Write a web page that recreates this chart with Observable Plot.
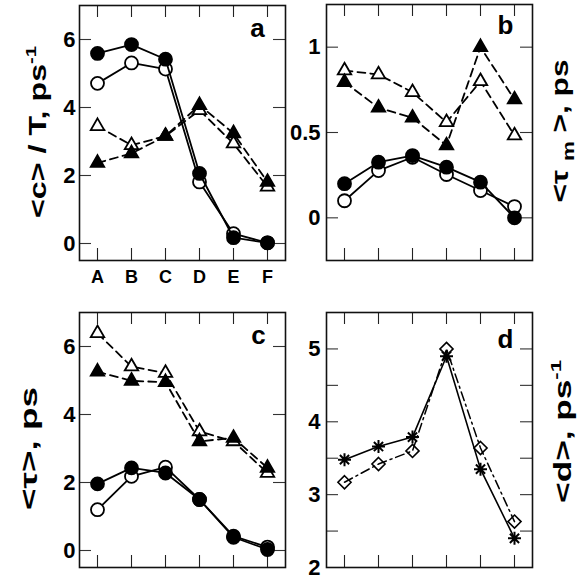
<!DOCTYPE html>
<html><head><meta charset="utf-8">
<script src="https://cdn.jsdelivr.net/npm/d3@7"></script>
<script src="https://cdn.jsdelivr.net/npm/@observablehq/plot@0.6"></script>
<style>
body{margin:0;background:#fff;}
#chart{position:relative;width:579px;height:583px;font-family:"Liberation Sans",Arial,sans-serif;background:#fff;overflow:hidden;}
.panel{position:absolute;}
</style></head><body><div id="chart"></div>
<script>
// ---- data ----
const categories = ["A", "B", "C", "D", "E", "F"];

// panel a: <c>/T, ps^-1
const aOpenTriangle  = [3.45, 2.89, 3.16, 3.92, 2.94, 1.67];
const aFilledTriangle = [2.37, 2.65, 3.16, 4.07, 3.24, 1.81];
const aOpenCircle    = [4.71, 5.31, 5.13, 1.81, 0.29, 0.02];
const aFilledCircle  = [5.59, 5.85, 5.42, 2.06, 0.17, 0.02];
const aYTicks = [0, 2, 4, 6];

// panel b: <tau_m>, ps
const bOpenTriangle  = [0.863, 0.84, 0.736, 0.56, 0.80, 0.482];
const bFilledTriangle = [0.795, 0.645, 0.586, 0.424, 1.0, 0.693];
const bOpenCircle    = [0.10, 0.277, 0.355, 0.254, 0.16, 0.066];
const bFilledCircle  = [0.20, 0.326, 0.365, 0.297, 0.209, 0.0];
const bYTicks = [0, 0.5, 1];

// panel c: <tau>, ps
const cOpenTriangle  = [6.39, 5.41, 5.22, 3.50, 3.21, 2.28];
const cFilledTriangle = [5.26, 4.99, 4.95, 3.21, 3.31, 2.43];
const cOpenCircle    = [1.20, 2.18, 2.45, 1.50, 0.42, 0.10];
const cFilledCircle  = [1.96, 2.43, 2.28, 1.50, 0.39, 0.03];
const cYTicks = [0, 2, 4, 6];

// panel d: <d>, ps^-1
const dDiamond  = [3.17, 3.42, 3.60, 5.00, 3.64, 2.63];
const dAsterisk = [3.48, 3.66, 3.79, 4.90, 3.35, 2.40];
const dYTicks = [2, 3, 4, 5];
const dYMinorTicks = [2.5, 3, 3.5, 4, 4.5, 5];

// ---- helpers ----
const asterisk8 = {
  draw(ctx, size) {
    const r = Math.sqrt(size / Math.PI), d = r * Math.SQRT1_2;
    ctx.moveTo(-r, 0); ctx.lineTo(r, 0);
    ctx.moveTo(0, -r); ctx.lineTo(0, r);
    ctx.moveTo(-d, -d); ctx.lineTo(d, d);
    ctx.moveTo(-d, d); ctx.lineTo(d, -d);
  }
};
const rows = vals => categories.map((c, i) => ({cat: c, v: vals[i]}));

function seriesMarks(vals, {symbol, fill, dash, r, sw = 1.8, lw = 1.8}) {
  const data = rows(vals);
  return [
    Plot.line(data, {x: "cat", y: "v", stroke: "black", strokeWidth: lw, strokeDasharray: dash}),
    Plot.dot(data, {x: "cat", y: "v", symbol, r, fill, stroke: "black", strokeWidth: sw})
  ];
}

function panel(cfg) {
  const FW = cfg.width - cfg.ml - cfg.mr;
  const FH = cfg.height - cfg.mt - cfg.mb;
  const tickLen = 12;
  const marks = [
    Plot.tickX(categories, {x: d => d, stroke: "#222", strokeWidth: 1.1, insetTop: FH - tickLen}),
    Plot.tickX(categories, {x: d => d, stroke: "#222", strokeWidth: 1.1, insetBottom: FH - tickLen}),
    Plot.tickY(cfg.tickMarks, {y: d => d, stroke: "#333", strokeWidth: 1.1, insetRight: FW - tickLen}),
    Plot.tickY(cfg.tickMarks, {y: d => d, stroke: "#333", strokeWidth: 1.1, insetLeft: FW - tickLen}),
    Plot.axisY({ticks: cfg.yTicks, tickSize: 0, tickPadding: cfg.pad, tickFormat: d => String(d),
      fontSize: 22, fontWeight: "bold", label: null}),
    ...cfg.series.flat(),
    Plot.frame({stroke: "#111", strokeWidth: 1.6}),
    Plot.text([cfg.letter], {frameAnchor: "top-right", text: d => d, dx: cfg.ldx, dy: cfg.ldy,
      fontSize: 26, fontWeight: "bold", textAnchor: "middle", lineAnchor: "middle"})
  ];
  if (cfg.xLabels) {
    marks.push(Plot.axisX({tickSize: 0, tickPadding: 10, fontSize: 18, fontWeight: "bold", label: null}));
  }
  const plot = Plot.plot({
    width: cfg.width, height: cfg.height,
    marginLeft: cfg.ml, marginRight: cfg.mr, marginTop: cfg.mt, marginBottom: cfg.mb,
    x: {type: "point", domain: categories, padding: 0.5, ...(cfg.xLabels ? {} : {axis: null})},
    y: {domain: cfg.yDomain},
    style: {fontFamily: "'Liberation Sans', Arial, sans-serif", background: "transparent", color: "black"},
    marks
  });
  const div = document.createElement("div");
  div.className = "panel";
  div.style.left = cfg.left + "px";
  div.style.top = cfg.top + "px";
  div.appendChild(plot);
  document.getElementById("chart").appendChild(div);

  // axis title (rotated, reads bottom-to-top), stretched along its length to fit the reference
  const t = d3.select(plot).append("text")
    .attr("text-anchor", "middle")
    .attr("font-size", 24).attr("font-weight", "bold").attr("fill", "black")
    .attr("font-family", "'Liberation Sans', Arial, sans-serif");
  cfg.title(t);
  const len = t.node().getBBox().width || 1;
  const sx = cfg.tlen / len;
  t.attr("transform", `translate(${cfg.tx},${cfg.ty}) rotate(-90) scale(${sx},1)`);
}

// ---- panels ----
panel({
  left: 0, top: 0, width: 290, height: 290, ml: 79, mr: 5, mt: 5, mb: 30,
  yDomain: [-0.5, 7], yTicks: aYTicks, tickMarks: aYTicks, pad: 4, xLabels: true,
  letter: "a", ldx: -28, ldy: 23,
  series: [
    seriesMarks(aOpenTriangle, {symbol: "triangle", fill: "white", dash: "8,5", r: 5}),
    seriesMarks(aFilledTriangle, {symbol: "triangle", fill: "black", dash: "8,5", r: 5}),
    seriesMarks(aOpenCircle, {symbol: "circle", fill: "white", r: 6.5}),
    seriesMarks(aFilledCircle, {symbol: "circle", fill: "black", r: 6.5})
  ],
  tx: 46, ty: 132, tlen: 172,
  title: t => {
    t.append("tspan").text("<c> / T, ps");
    t.append("tspan").attr("dy", -10).attr("font-size", 15).text("-1");
  }
});

panel({
  left: 280, top: 0, width: 299, height: 290, ml: 46, mr: 47, mt: 4, mb: 30,
  yDomain: [-0.25, 1.25], yTicks: bYTicks, tickMarks: bYTicks, pad: 6,
  letter: "b", ldx: -27, ldy: 21,
  series: [
    seriesMarks(bOpenTriangle, {symbol: "triangle", fill: "white", dash: "8,5", r: 5}),
    seriesMarks(bFilledTriangle, {symbol: "triangle", fill: "black", dash: "8,5", r: 5}),
    seriesMarks(bOpenCircle, {symbol: "circle", fill: "white", r: 6.5}),
    seriesMarks(bFilledCircle, {symbol: "circle", fill: "black", r: 6.5})
  ],
  tx: 288, ty: 131, tlen: 143,
  title: t => {
    t.append("tspan").text("<τ ");
    t.append("tspan").attr("dy", 6).attr("font-size", 17).text("m");
    t.append("tspan").attr("dy", -6).text(" >, ps");
  }
});

panel({
  left: 0, top: 290, width: 290, height: 293, ml: 79, mr: 5, mt: 22, mb: 16,
  yDomain: [-0.5, 7], yTicks: cYTicks, tickMarks: cYTicks, pad: 4,
  letter: "c", ldx: -27, ldy: 23,
  series: [
    seriesMarks(cOpenTriangle, {symbol: "triangle", fill: "white", dash: "8,5", r: 5}),
    seriesMarks(cFilledTriangle, {symbol: "triangle", fill: "black", dash: "8,5", r: 5}),
    seriesMarks(cOpenCircle, {symbol: "circle", fill: "white", r: 6.5}),
    seriesMarks(cFilledCircle, {symbol: "circle", fill: "black", r: 6.5})
  ],
  tx: 37, ty: 158.5, tlen: 123,
  title: t => { t.append("tspan").text("<τ>, ps"); }
});

panel({
  left: 280, top: 290, width: 299, height: 293, ml: 46, mr: 47, mt: 22, mb: 16,
  yDomain: [2, 5.5], yTicks: dYTicks, tickMarks: dYMinorTicks, pad: 6,
  letter: "d", ldx: -27, ldy: 27,
  series: [
    seriesMarks(dDiamond, {symbol: "diamond2", fill: "none", dash: "9,4,2,4", r: 5.9, sw: 1.6, lw: 1.5}),
    seriesMarks(dAsterisk, {symbol: asterisk8, fill: "none", r: 6.5, sw: 2, lw: 1.6})
  ],
  tx: 291, ty: 141.5, tlen: 143,
  title: t => {
    t.append("tspan").text("<d>, ps");
    t.append("tspan").attr("dy", -10).attr("font-size", 15).text("-1");
  }
});
</script>
</body></html>
